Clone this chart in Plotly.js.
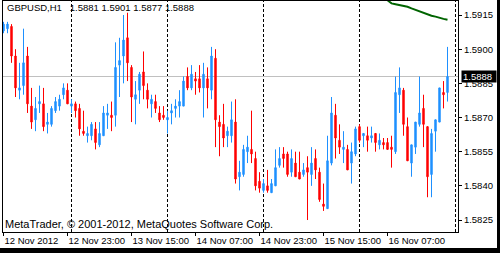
<!DOCTYPE html>
<html><head><meta charset="utf-8">
<script src="https://cdn.plot.ly/plotly-3.0.1.min.js"></script>
<style>html,body{margin:0;padding:0;background:#fff;}#chart{width:500px;height:253px;}</style>
</head><body><div id="chart"></div>
<script>
// Bar index 0 = 12 Nov 2012 07:00, one bar per hour (H1)
const openP = [
1.5908,1.5909,1.5910,1.5897,1.5882,1.5884,1.5897,1.5875,1.5869,1.5876,
1.5876,1.5867,1.5867,1.5873,1.5875,1.5880,1.5882,1.5875,1.5876,1.5874,
1.5864,1.5862,1.5862,1.5865,1.5858,1.5862,1.5871,1.5871,1.5871,1.5893,
1.5897,1.5905,1.5892,1.5878,1.5882,1.5890,1.5882,1.5876,1.5877,1.5872,
1.5871,1.5869,1.5872,1.5874,1.5875,1.5875,1.5888,1.5883,1.5887,1.5887,
1.5883,1.5887,1.5882,1.5896,1.5868,1.5867,1.5862,1.5862,1.5868,1.5844,
1.5845,1.5855,1.5856,1.5852,1.5842,1.5838,1.5840,1.5837,1.5840,1.5849,
1.5854,1.5854,1.5846,1.5850,1.5846,1.5845,1.5848,1.5845,1.5852,1.5846,
1.5832,1.5830,1.5850,1.5871,1.5860,1.5856,1.5856,1.5850,1.5854,1.5866,
1.5862,1.5862,1.5861,1.5863,1.5858,1.5859,1.5859,1.5857,1.5855,1.5880,
1.5882,1.5866,1.5850,1.5857,1.5867,1.5874,1.5866,1.5845,1.5864,1.5868,
1.5881,1.5881];
const highP = [
1.5912,1.5912,1.5911,1.5900,1.5894,1.5909,1.5901,1.5883,1.5879,1.5884,
1.5883,1.5872,1.5875,1.5879,1.5880,1.5885,1.5885,1.5878,1.5877,1.5876,
1.5873,1.5866,1.5868,1.5868,1.5868,1.5875,1.5876,1.5877,1.5903,1.5905,
1.5915,1.5916,1.5893,1.5886,1.5890,1.5899,1.5885,1.5880,1.5880,1.5875,
1.5875,1.5873,1.5876,1.5878,1.5882,1.5888,1.5892,1.5893,1.5890,1.5893,
1.5894,1.5892,1.5901,1.5900,1.5871,1.5876,1.5866,1.5877,1.5878,1.5851,
1.5858,1.5862,1.5873,1.5855,1.5846,1.5843,1.5847,1.5843,1.5856,1.5857,
1.5857,1.5855,1.5856,1.5855,1.5855,1.5850,1.5853,1.5857,1.5856,1.5848,
1.5841,1.5862,1.5879,1.5876,1.5867,1.5864,1.5858,1.5859,1.5866,1.5867,
1.5863,1.5866,1.5866,1.5863,1.5863,1.5861,1.5861,1.5862,1.5888,1.5892,
1.5883,1.5870,1.5858,1.5868,1.5888,1.5880,1.5866,1.5865,1.5869,1.5883,
1.5886,1.5901];
const lowP = [
1.5907,1.5907,1.5894,1.5879,1.5878,1.5880,1.5872,1.5865,1.5864,1.5872,
1.5864,1.5863,1.5866,1.5872,1.5873,1.5878,1.5876,1.5872,1.5870,1.5862,
1.5862,1.5859,1.5860,1.5856,1.5857,1.5862,1.5865,1.5864,1.5866,1.5879,
1.5885,1.5886,1.5868,1.5867,1.5876,1.5878,1.5874,1.5870,1.5872,1.5868,
1.5869,1.5863,1.5867,1.5870,1.5870,1.5875,1.5882,1.5882,1.5880,1.5881,
1.5870,1.5874,1.5878,1.5857,1.5853,1.5857,1.5857,1.5859,1.5841,1.5838,
1.5844,1.5850,1.5850,1.5838,1.5837,1.5837,1.5837,1.5837,1.5840,1.5848,
1.5848,1.5844,1.5844,1.5844,1.5843,1.5844,1.5825,1.5840,1.5843,1.5833,
1.5829,1.5830,1.5849,1.5852,1.5854,1.5850,1.5847,1.5841,1.5853,1.5859,
1.5857,1.5855,1.5859,1.5855,1.5856,1.5856,1.5856,1.5848,1.5854,1.5872,
1.5862,1.5851,1.5844,1.5854,1.5866,1.5857,1.5835,1.5835,1.5855,1.5868,
1.5874,1.5877];
const closeP = [
1.5911,1.5911,1.5897,1.5883,1.5883,1.5894,1.5876,1.5868,1.5874,1.5877,
1.5866,1.5868,1.5874,1.5877,1.5878,1.5883,1.5876,1.5876,1.5873,1.5865,
1.5863,1.5863,1.5867,1.5859,1.5863,1.5872,1.5872,1.5870,1.5892,1.5895,
1.5904,1.5894,1.5879,1.5880,1.5889,1.5884,1.5878,1.5878,1.5874,1.5869,
1.5870,1.5870,1.5873,1.5875,1.5877,1.5886,1.5883,1.5889,1.5886,1.5883,
1.5889,1.5883,1.5897,1.5869,1.5866,1.5861,1.5864,1.5869,1.5843,1.5846,
1.5856,1.5857,1.5854,1.5840,1.5839,1.5841,1.5838,1.5841,1.5848,1.5852,
1.5852,1.5845,1.5852,1.5844,1.5843,1.5847,1.5846,1.5850,1.5847,1.5834,
1.5831,1.5851,1.5872,1.5861,1.5857,1.5857,1.5847,1.5855,1.5865,1.5860,
1.5863,1.5860,1.5862,1.5859,1.5860,1.5858,1.5856,1.5856,1.5881,1.5883,
1.5867,1.5851,1.5858,1.5868,1.5872,1.5867,1.5844,1.5863,1.5869,1.5883,
1.5880,1.5888];
// moving-average line (green), visible only at the top right
const maBars = [94,95,96,97,98,99,100,101,102,103,104,105,106,107,108,109,110,111];
const maVals = [1.59235,1.59228,1.59215,1.59201,1.59197,1.59194,1.59191,1.59186,1.59179,1.59172,1.59167,1.59160,1.59151,1.59147,1.59143,1.59137,1.59133,1.59129];
const tickBars = [0,16,32,48,64,80,96];
const tickLabels = ["12 Nov 2012","12 Nov 23:00","13 Nov 15:00","14 Nov 07:00","14 Nov 23:00","15 Nov 15:00","16 Nov 07:00"];
const priceTicks = [1.5825,1.5840,1.5855,1.5870,1.5885,1.5900,1.5915];
const daySeparators = [17,41,65,89,113];
const symbol = "GBPUSD,H1";
const lastPrice = 1.5888;

const bars = openP.map((_, i) => i);
const n = bars.length;
const FONT = "Liberation Sans, Arial, sans-serif";

const traces = [
  {
    type: "candlestick", x: bars, open: openP, high: highP, low: lowP, close: closeP,
    increasing: {line: {color: "#1E90FF", width: 1}, fillcolor: "#1E90FF"},
    decreasing: {line: {color: "#FF0000", width: 1}, fillcolor: "#FF0000"},
    whiskerwidth: 0, showlegend: false, hoverinfo: "skip"
  },
  {
    type: "scatter", mode: "lines", x: maBars, y: maVals,
    line: {color: "#006400", width: 2}, showlegend: false, hoverinfo: "skip"
  }
];

const shapes = daySeparators.map(b => ({
  type: "line", xref: "x", yref: "paper", x0: b, x1: b, y0: 0, y1: 1,
  line: {color: "#000", width: 1, dash: "3px,2px"}, layer: "below"
}));
shapes.push({type: "line", xref: "paper", yref: "y", x0: 0, x1: 1, y0: lastPrice, y1: lastPrice,
  line: {color: "#C0C0C0", width: 1}, layer: "below"});
// black window edge right and bottom
shapes.push({type: "rect", xref: "paper", yref: "paper", x0: (497-3)/455, x1: (501-3)/455, y0: -22/231, y1: 233/231,
  fillcolor: "#000", line: {width: 0}});
shapes.push({type: "rect", xref: "paper", yref: "paper", x0: -4/455, x1: (501-3)/455, y0: -22/231, y1: (232-248)/231,
  fillcolor: "#000", line: {width: 0}});

const layout = {
  width: 500, height: 253,
  margin: {l: 3, r: 42, t: 1, b: 21, pad: 0},
  paper_bgcolor: "#fff", plot_bgcolor: "#fff",
  showlegend: false,
  boxgap: 0.5,
  title: {
    text: symbol + "\u00A0\u00A0\u00A0" + openP[n-1].toFixed(4) + " " + highP[n-1].toFixed(4) + " " + lowP[n-1].toFixed(4) + " " + closeP[n-1].toFixed(4),
    xref: "container", yref: "container", x: 7/500, xanchor: "left", y: 1 - 4/253, yanchor: "top",
    font: {family: FONT, size: 9.5, color: "#000"}, pad: {t: 0, l: 0}
  },
  xaxis: {
    range: [-0.125, 113.625], fixedrange: true,
    rangeslider: {visible: false},
    showgrid: false, zeroline: false,
    showline: true, linecolor: "#000", linewidth: 1, mirror: true,
    ticks: "outside", ticklen: 3, tickcolor: "#000", tickwidth: 1,
    tickmode: "array", tickvals: tickBars, ticktext: tickLabels,
    tickangle: 0, ticklabelposition: "outside right", ticklabeloverflow: "allow",
    tickfont: {family: FONT, size: 9.5, color: "#000"}
  },
  yaxis: {
    range: [1.581974, 1.592115], fixedrange: true, side: "right",
    showgrid: false, zeroline: false,
    showline: true, linecolor: "#000", linewidth: 1, mirror: true,
    ticks: "outside", ticklen: 3, tickcolor: "#000", tickwidth: 1,
    tickmode: "array", tickvals: priceTicks, ticktext: priceTicks.map(v => v.toFixed(4)),
    tickfont: {family: FONT, size: 9.5, color: "#000"}
  },
  shapes: shapes,
  annotations: [
    {xref: "paper", yref: "y", x: (461-3)/455, y: lastPrice, xanchor: "left", yanchor: "middle",
     text: lastPrice.toFixed(4), showarrow: false, bgcolor: "#000", borderpad: 1, width: 32, height: 9, align: "left",
     font: {family: FONT, size: 9.5, color: "#fff"}},
    {xref: "paper", yref: "paper", x: 0, y: 0, xanchor: "left", yanchor: "bottom",
     text: "MetaTrader, © 2001-2012, MetaQuotes Software Corp.", showarrow: false,
     font: {family: FONT, size: 11, color: "#000"}}
  ]
};

Plotly.newPlot("chart", traces, layout, {staticPlot: true, displayModeBar: false});
</script></body></html>
